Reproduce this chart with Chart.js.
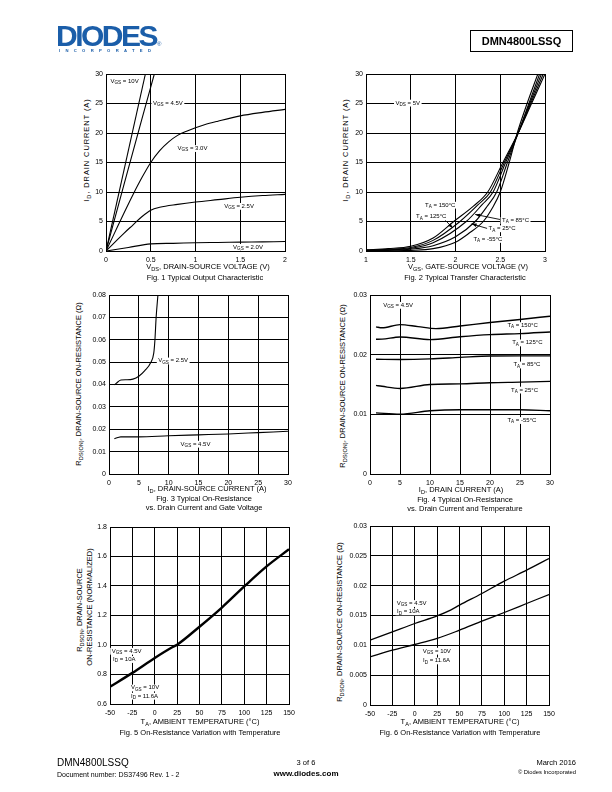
<!DOCTYPE html>
<html lang="en">
<head>
<meta charset="UTF-8" />
<title>DMN4800LSSQ - Typical Characteristics</title>
<script src="https://cdn.jsdelivr.net/npm/chart.js"></script>
<style>
  body { margin: 0; background: #fff; font-family: "Liberation Sans", Arial, sans-serif; color: #000; }
  #page { position: relative; width: 612px; height: 792px; overflow: hidden; color: #000; }
  .abs { position: absolute; white-space: nowrap; line-height: 1; color: #000; transform: translateZ(0); }
  .c { width: 300px; text-align: center; }
  .yt { transform: translate(-50%, -50%) rotate(-90deg); }
  .t { font-size: 7.5px; }
  sub { font-size: 75%; vertical-align: baseline; position: relative; top: 0.35em; line-height: 0; }
  canvas { position: absolute; }
</style>
</head>
<body>
<div id="page">
  <!-- header -->
  <div class="abs" style="left:56px;top:21px;font-weight:bold;font-size:30px;letter-spacing:-2.5px;color:#1b5ea9;">DIODES</div>
  <div class="abs" style="left:157px;top:41px;font-size:6px;color:#1b5ea9;">&reg;</div>
  <div class="abs" style="left:59px;top:49px;font-weight:bold;font-size:4.2px;letter-spacing:5.3px;color:#1b5ea9;">INCORPORATED</div>
  <div class="abs" style="left:470px;top:30px;width:101px;height:20px;border:1.5px solid #000;text-align:center;line-height:20px;font-weight:bold;font-size:11px;">DMN4800LSSQ</div>

  <!-- fig 1 -->
  <div class="abs t yt" style="left:87px;top:150px;letter-spacing:0.9px;">I<sub>D</sub>, DRAIN CURRENT (A)</div>
  <div class="abs t c" style="left:58px;top:263px;">V<sub>DS</sub>, DRAIN-SOURCE VOLTAGE (V)</div>
  <div class="abs t c" style="left:55px;top:274px;">Fig. 1 Typical Output Characteristic</div>
  <!-- fig 2 -->
  <div class="abs t yt" style="left:346px;top:150px;letter-spacing:0.9px;">I<sub>D</sub>, DRAIN CURRENT (A)</div>
  <div class="abs t c" style="left:318px;top:263px;">V<sub>GS</sub>, GATE-SOURCE VOLTAGE (V)</div>
  <div class="abs t c" style="left:315px;top:274px;">Fig. 2 Typical Transfer Characteristic</div>
  <!-- fig 3 -->
  <div class="abs t yt" style="left:79px;top:384px;">R<sub>DS(ON)</sub>, DRAIN-SOURCE ON-RESISTANCE (&Omega;)</div>
  <div class="abs t c" style="left:57px;top:485px;">I<sub>D</sub>, DRAIN-SOURCE CURRENT (A)</div>
  <div class="abs t c" style="left:54px;top:495px;">Fig. 3 Typical On-Resistance</div>
  <div class="abs t c" style="left:54px;top:504px;">vs. Drain Current and Gate Voltage</div>
  <!-- fig 4 -->
  <div class="abs t yt" style="left:343px;top:386px;">R<sub>DS(ON)</sub>, DRAIN-SOURCE ON-RESISTANCE (&Omega;)</div>
  <div class="abs t c" style="left:311px;top:486px;">I<sub>D</sub>, DRAIN CURRENT (A)</div>
  <div class="abs t c" style="left:315px;top:496px;">Fig. 4 Typical On-Resistance</div>
  <div class="abs t c" style="left:315px;top:505px;">vs. Drain Current and Temperature</div>
  <!-- fig 5 -->
  <div class="abs t yt" style="left:80px;top:610px;">R<sub>DSON</sub>, DRAIN-SOURCE</div>
  <div class="abs t yt" style="left:90px;top:607px;">ON-RESISTANCE (NORMALIZED)</div>
  <div class="abs t c" style="left:50px;top:718px;">T<sub>A</sub>, AMBIENT TEMPERATURE (&deg;C)</div>
  <div class="abs t c" style="left:50px;top:729px;">Fig. 5 On-Resistance Variation with Temperature</div>
  <!-- fig 6 -->
  <div class="abs t yt" style="left:340px;top:622px;">R<sub>DSON</sub>, DRAIN-SOURCE ON-RESISTANCE (&Omega;)</div>
  <div class="abs t c" style="left:310px;top:718px;">T<sub>A</sub>, AMBIENT TEMPERATURE (&deg;C)</div>
  <div class="abs t c" style="left:310px;top:729px;">Fig. 6 On-Resistance Variation with Temperature</div>

  <!-- footer -->
  <div class="abs" style="left:57px;top:758px;font-size:10px;">DMN4800LSSQ</div>
  <div class="abs" style="left:57px;top:771px;font-size:7px;">Document number: DS37496 Rev. 1 - 2</div>
  <div class="abs c" style="left:156px;top:759px;font-size:7.5px;">3 of 6</div>
  <div class="abs c" style="left:156px;top:770px;font-size:8px;font-weight:bold;">www.diodes.com</div>
  <div class="abs" style="right:36px;top:759px;font-size:7.5px;">March 2016</div>
  <div class="abs" style="right:36px;top:770px;font-size:5.8px;">&copy; Diodes Incorporated</div>
</div>

<script>
  // ---- Fig 1: output characteristic, I_D (A) vs V_DS (V)
  const f1_vgs10_x = [0, 0.44];
  const f1_vgs10_y = [0, 30];
  const f1_vgs45_x = [0, 0.2, 0.4, 0.54];
  const f1_vgs45_y = [0, 11.2, 22.3, 30];
  const f1_vgs30_x = [0, 0.1, 0.2, 0.3, 0.4, 0.5, 0.6, 0.7, 0.8, 0.9, 1.0, 1.1, 1.25, 1.5, 1.75, 2.0];
  const f1_vgs30_y = [0, 3.2, 6.4, 9.5, 12.4, 15.0, 17.0, 18.5, 19.6, 20.3, 20.9, 21.4, 22.0, 22.9, 23.5, 24.0];
  const f1_vgs25_x = [0, 0.1, 0.2, 0.3, 0.4, 0.5, 0.6, 0.8, 1.0, 1.25, 1.5, 1.75, 2.0];
  const f1_vgs25_y = [0, 1.5, 3.0, 4.4, 5.8, 6.9, 7.4, 7.9, 8.3, 8.7, 9.1, 9.4, 9.6];
  const f1_vgs20_x = [0, 0.25, 0.5, 0.75, 1.0, 1.25, 1.5, 1.75, 2.0];
  const f1_vgs20_y = [0, 0.6, 1.2, 1.3, 1.4, 1.45, 1.5, 1.55, 1.6];

  // ---- Fig 2: transfer characteristic, I_D (A) vs V_GS (V), V_DS = 5V
  const f2_t150_x = [1, 1.25, 1.5, 1.75, 1.98, 2.2, 2.36, 2.53, 2.7, 2.85, 3.0];
  const f2_t150_y = [0.2, 0.4, 0.8, 2.2, 5, 7.6, 10, 15, 20, 25, 30];
  const f2_t125_x = [1, 1.25, 1.5, 1.75, 2.05, 2.25, 2.39, 2.545, 2.7, 2.84, 2.98];
  const f2_t125_y = [0.15, 0.3, 0.6, 1.8, 5, 7.8, 10, 15, 20, 25, 30];
  const f2_t85_x = [1, 1.25, 1.5, 1.75, 2.12, 2.3, 2.42, 2.56, 2.7, 2.83, 2.96];
  const f2_t85_y = [0.1, 0.2, 0.45, 1.4, 5, 7.9, 10, 15, 20, 25, 30];
  const f2_t25_x = [1, 1.25, 1.5, 1.75, 2.0, 2.22, 2.35, 2.46, 2.58, 2.7, 2.82, 2.94];
  const f2_t25_y = [0.05, 0.1, 0.3, 0.9, 2.4, 5, 7.5, 10, 15, 20, 25, 30];
  const f2_tm55_x = [1, 1.25, 1.5, 1.75, 2.0, 2.15, 2.31, 2.42, 2.5, 2.6, 2.69, 2.8, 2.92];
  const f2_tm55_y = [0, 0.03, 0.1, 0.4, 1.5, 3, 5, 7.5, 10, 15, 20, 25, 30];

  // ---- Fig 3: R_DS(ON) (ohm) vs I_D (A)
  const f3_vgs25_x = [0.9, 1.2, 2, 3, 4, 5, 6, 7, 7.5, 7.7, 7.9, 8.2];
  const f3_vgs25_y = [0.0398, 0.0405, 0.042, 0.0421, 0.0424, 0.0437, 0.0462, 0.0498, 0.054, 0.06, 0.07, 0.08];
  const f3_vgs45_x = [0.9, 1.5, 2, 5, 10, 15, 20, 25, 30];
  const f3_vgs45_y = [0.0158, 0.0163, 0.0166, 0.0166, 0.0171, 0.0175, 0.0179, 0.0185, 0.0191];

  // ---- Fig 4: R_DS(ON) (ohm) vs I_D (A), V_GS = 4.5V
  const f4_t150_x = [1, 2, 5, 8, 11, 15, 20, 25, 30];
  const f4_t150_y = [0.02465, 0.0245, 0.02504, 0.0247, 0.02437, 0.0248, 0.02538, 0.0259, 0.02644];
  const f4_t125_x = [1, 2, 5, 10, 15, 20, 25, 30];
  const f4_t125_y = [0.02258, 0.0226, 0.02297, 0.02252, 0.0230, 0.02336, 0.02353, 0.0238];
  const f4_t85_x = [1, 5, 10, 15, 20, 25, 30];
  const f4_t85_y = [0.01922, 0.0192, 0.0193, 0.01955, 0.01978, 0.0198, 0.0198];
  const f4_t25_x = [1, 2, 5, 10, 15, 20, 25, 30];
  const f4_t25_y = [0.01485, 0.0147, 0.01434, 0.0150, 0.0151, 0.0153, 0.0154, 0.01552];
  const f4_tm55_x = [1, 5, 10, 15, 20, 25, 30];
  const f4_tm55_y = [0.01025, 0.01003, 0.01059, 0.01076, 0.01076, 0.01076, 0.0106];

  // ---- Fig 5: normalized R_DSON vs T_A (degC)
  const f5_temp = [-50, -25, 0, 20, 25, 50, 75, 100, 125, 150];
  const f5_rnorm = [0.717, 0.811, 0.912, 0.986, 1.002, 1.124, 1.254, 1.397, 1.533, 1.649];

  // ---- Fig 6: R_DSON (ohm) vs T_A (degC)
  const f6_vgs45_x = [-50, -25, 0, 25, 40, 50, 75, 100, 125, 150];
  const f6_vgs45_y = [0.01087, 0.01226, 0.01366, 0.01494, 0.0159, 0.01673, 0.01869, 0.02075, 0.0226, 0.02455];
  const f6_vgs10_x = [-50, -25, 0, 25, 50, 75, 100, 125, 150];
  const f6_vgs10_y = [0.00807, 0.00919, 0.01014, 0.01115, 0.01254, 0.01405, 0.0155, 0.01701, 0.01852];

  const FONT = '"Liberation Sans", Arial, sans-serif';

  // "V_{GS} = 10V" -> [{t:'V'}, {t:'GS', sub:true}, {t:' = 10V'}]
  function parseRich(str) {
    const out = [];
    const re = /_\{([^}]*)\}/g;
    let last = 0, m;
    while ((m = re.exec(str))) {
      if (m.index > last) out.push({ t: str.slice(last, m.index) });
      out.push({ t: m[1], sub: true });
      last = re.lastIndex;
    }
    if (last < str.length) out.push({ t: str.slice(last) });
    return out;
  }

  function drawRich(ctx, str, x, y, bg) {
    const fs = 6, sfs = 4.6;
    const parts = parseRich(str);
    let w = 0;
    parts.forEach(p => {
      ctx.font = (p.sub ? sfs : fs) + 'px ' + FONT;
      p.w = ctx.measureText(p.t).width;
      w += p.w;
    });
    if (bg) {
      ctx.fillStyle = '#fff';
      ctx.fillRect(x - 1.5, y - 3.2, w + 3, 6.8);
    }
    ctx.fillStyle = '#000';
    ctx.textBaseline = 'middle';
    ctx.textAlign = 'left';
    let cx = x;
    parts.forEach(p => {
      ctx.font = (p.sub ? sfs : fs) + 'px ' + FONT;
      ctx.fillText(p.t, cx, p.sub ? y + 1.8 : y);
      cx += p.w;
    });
  }

  function drawArrow(ctx, x1, y1, x2, y2) {
    ctx.strokeStyle = '#000';
    ctx.fillStyle = '#000';
    ctx.lineWidth = 0.9;
    ctx.beginPath();
    ctx.moveTo(x1, y1);
    ctx.lineTo(x2, y2);
    ctx.stroke();
    const a = Math.atan2(y2 - y1, x2 - x1);
    ctx.beginPath();
    ctx.moveTo(x2, y2);
    ctx.lineTo(x2 - 5 * Math.cos(a) + 1.8 * Math.sin(a), y2 - 5 * Math.sin(a) - 1.8 * Math.cos(a));
    ctx.lineTo(x2 - 5 * Math.cos(a) - 1.8 * Math.sin(a), y2 - 5 * Math.sin(a) + 1.8 * Math.cos(a));
    ctx.closePath();
    ctx.fill();
  }

  // labels and arrows placed in data units through the chart's scales
  function notesPlugin(notes) {
    return {
      id: 'notes',
      afterDatasetsDraw(chart) {
        const ctx = chart.ctx, sx = chart.scales.x, sy = chart.scales.y;
        ctx.save();
        (notes.arrows || []).forEach(a => drawArrow(ctx,
          sx.getPixelForValue(a.x1), sy.getPixelForValue(a.y1),
          sx.getPixelForValue(a.x2), sy.getPixelForValue(a.y2)));
        (notes.labels || []).forEach(l => drawRich(ctx, l.t,
          sx.getPixelForValue(l.x), sy.getPixelForValue(l.y), l.bg !== false));
        ctx.restore();
      }
    };
  }

  function axis(o, isX) {
    return {
      type: 'linear',
      min: o.min,
      max: o.max,
      border: { display: true, color: '#000', width: 1 },
      grid: { color: '#000', lineWidth: 1, drawTicks: false },
      ticks: {
        stepSize: o.step,
        autoSkip: false,
        maxRotation: 0,
        padding: isX ? 5 : 3,
        color: '#000',
        font: { family: FONT, size: 7 },
        callback: o.fmt || (v => String(v))
      },
      afterFit: s => { if (isX) s.height = 14; else s.width = 30; }
    };
  }

  // box = plot area in page pixels
  function addChart(box, xs, ys, series, notes) {
    const cv = document.createElement('canvas');
    const w = box.R - box.L + 42, h = box.B - box.T + 22;
    cv.width = w;
    cv.height = h;
    cv.style.left = (box.L - 30) + 'px';
    cv.style.top = (box.T - 8) + 'px';
    cv.style.width = w + 'px';
    cv.style.height = h + 'px';
    document.getElementById('page').appendChild(cv);

    return new Chart(cv, {
      type: 'line',
      data: {
        datasets: series.map(s => ({
          data: s.x.map((x, i) => ({ x: x, y: s.y[i] })),
          borderColor: '#000',
          borderWidth: s.w || 1.1,
          pointRadius: 0,
          fill: false,
          cubicInterpolationMode: 'monotone'
        }))
      },
      options: {
        responsive: false,
        animation: false,
        devicePixelRatio: 1,
        layout: { padding: { top: 8, right: 12, left: 0, bottom: 0 } },
        scales: { x: axis(xs, true), y: axis(ys, false) },
        plugins: { legend: { display: false }, tooltip: { enabled: false } }
      },
      plugins: [notesPlugin(notes)]
    });
  }

  // Fig 1
  addChart({ L: 106, R: 285, T: 74, B: 251 },
    { min: 0, max: 2, step: 0.5 }, { min: 0, max: 30, step: 5 },
    [
      { x: f1_vgs10_x, y: f1_vgs10_y },
      { x: f1_vgs45_x, y: f1_vgs45_y },
      { x: f1_vgs30_x, y: f1_vgs30_y },
      { x: f1_vgs25_x, y: f1_vgs25_y },
      { x: f1_vgs20_x, y: f1_vgs20_y }
    ],
    { labels: [
      { x: 0.05, y: 28.8, t: 'V_{GS} = 10V' },
      { x: 0.525, y: 25.1, t: 'V_{GS} = 4.5V' },
      { x: 0.8, y: 17.4, t: 'V_{GS} = 3.0V' },
      { x: 1.32, y: 7.6, t: 'V_{GS} = 2.5V' },
      { x: 1.42, y: 0.65, t: 'V_{GS} = 2.0V' }
    ] });

  // Fig 2
  addChart({ L: 366, R: 545, T: 74, B: 251 },
    { min: 1, max: 3, step: 0.5 }, { min: 0, max: 30, step: 5 },
    [
      { x: f2_t150_x, y: f2_t150_y },
      { x: f2_t125_x, y: f2_t125_y },
      { x: f2_t85_x, y: f2_t85_y },
      { x: f2_t25_x, y: f2_t25_y },
      { x: f2_tm55_x, y: f2_tm55_y }
    ],
    { labels: [
      { x: 1.33, y: 25.1, t: 'V_{DS} = 5V' },
      { x: 1.66, y: 7.8, t: 'T_{A} = 150°C' },
      { x: 1.56, y: 5.8, t: 'T_{A} = 125°C' },
      { x: 2.52, y: 5.2, t: 'T_{A} = 85°C' },
      { x: 2.37, y: 3.8, t: 'T_{A} = 25°C' },
      { x: 2.2, y: 2.0, t: 'T_{A} = -55°C' }
    ],
    arrows: [
      { x1: 1.88, y1: 5.3, x2: 1.97, y2: 3.9 },
      { x1: 2.51, y1: 5.3, x2: 2.22, y2: 6.2 },
      { x1: 2.36, y1: 3.8, x2: 2.18, y2: 4.6 }
    ] });

  // Fig 3
  addChart({ L: 109, R: 288, T: 295, B: 474 },
    { min: 0, max: 30, step: 5 }, { min: 0, max: 0.08, step: 0.01 },
    [
      { x: f3_vgs25_x, y: f3_vgs25_y },
      { x: f3_vgs45_x, y: f3_vgs45_y }
    ],
    { labels: [
      { x: 8.26, y: 0.0506, t: 'V_{GS} = 2.5V' },
      { x: 12.0, y: 0.0134, t: 'V_{GS} = 4.5V' }
    ] });

  // Fig 4
  addChart({ L: 370, R: 550, T: 295, B: 474 },
    { min: 0, max: 30, step: 5 }, { min: 0, max: 0.03, step: 0.01 },
    [
      { x: f4_t150_x, y: f4_t150_y, w: 1.4 },
      { x: f4_t125_x, y: f4_t125_y, w: 1.4 },
      { x: f4_t85_x, y: f4_t85_y, w: 1.4 },
      { x: f4_t25_x, y: f4_t25_y, w: 1.4 },
      { x: f4_tm55_x, y: f4_tm55_y, w: 1.4 }
    ],
    { labels: [
      { x: 2.2, y: 0.0283, t: 'V_{GS} = 4.5V' },
      { x: 22.9, y: 0.0249, t: 'T_{A} = 150°C' },
      { x: 23.7, y: 0.022, t: 'T_{A} = 125°C' },
      { x: 23.9, y: 0.0183, t: 'T_{A} = 85°C' },
      { x: 23.5, y: 0.0141, t: 'T_{A} = 25°C' },
      { x: 22.9, y: 0.009, t: 'T_{A} = -55°C' }
    ] });

  // Fig 5
  addChart({ L: 110, R: 289, T: 527, B: 704 },
    { min: -50, max: 150, step: 25 }, { min: 0.6, max: 1.8, step: 0.2, fmt: v => v.toFixed(1) },
    [ { x: f5_temp, y: f5_rnorm, w: 2.4 } ],
    { labels: [
      { x: -48.1, y: 0.959, t: 'V_{GS} = 4.5V' },
      { x: -46.6, y: 0.903, t: 'I_{D} = 10A' },
      { x: -26.5, y: 0.71, t: 'V_{GS} = 10V' },
      { x: -26.5, y: 0.654, t: 'I_{D} = 11.6A' }
    ] });

  // Fig 6
  addChart({ L: 370, R: 549, T: 526, B: 705 },
    { min: -50, max: 150, step: 25 }, { min: 0, max: 0.03, step: 0.005 },
    [
      { x: f6_vgs45_x, y: f6_vgs45_y, w: 1.3 },
      { x: f6_vgs10_x, y: f6_vgs10_y, w: 1.3 }
    ],
    { labels: [
      { x: -20.2, y: 0.01704, t: 'V_{GS} = 4.5V' },
      { x: -19.8, y: 0.01564, t: 'I_{D} = 10A' },
      { x: 8.9, y: 0.00905, t: 'V_{GS} = 10V' },
      { x: 9.2, y: 0.00742, t: 'I_{D} = 11.6A' }
    ] });
</script>
</body>
</html>
